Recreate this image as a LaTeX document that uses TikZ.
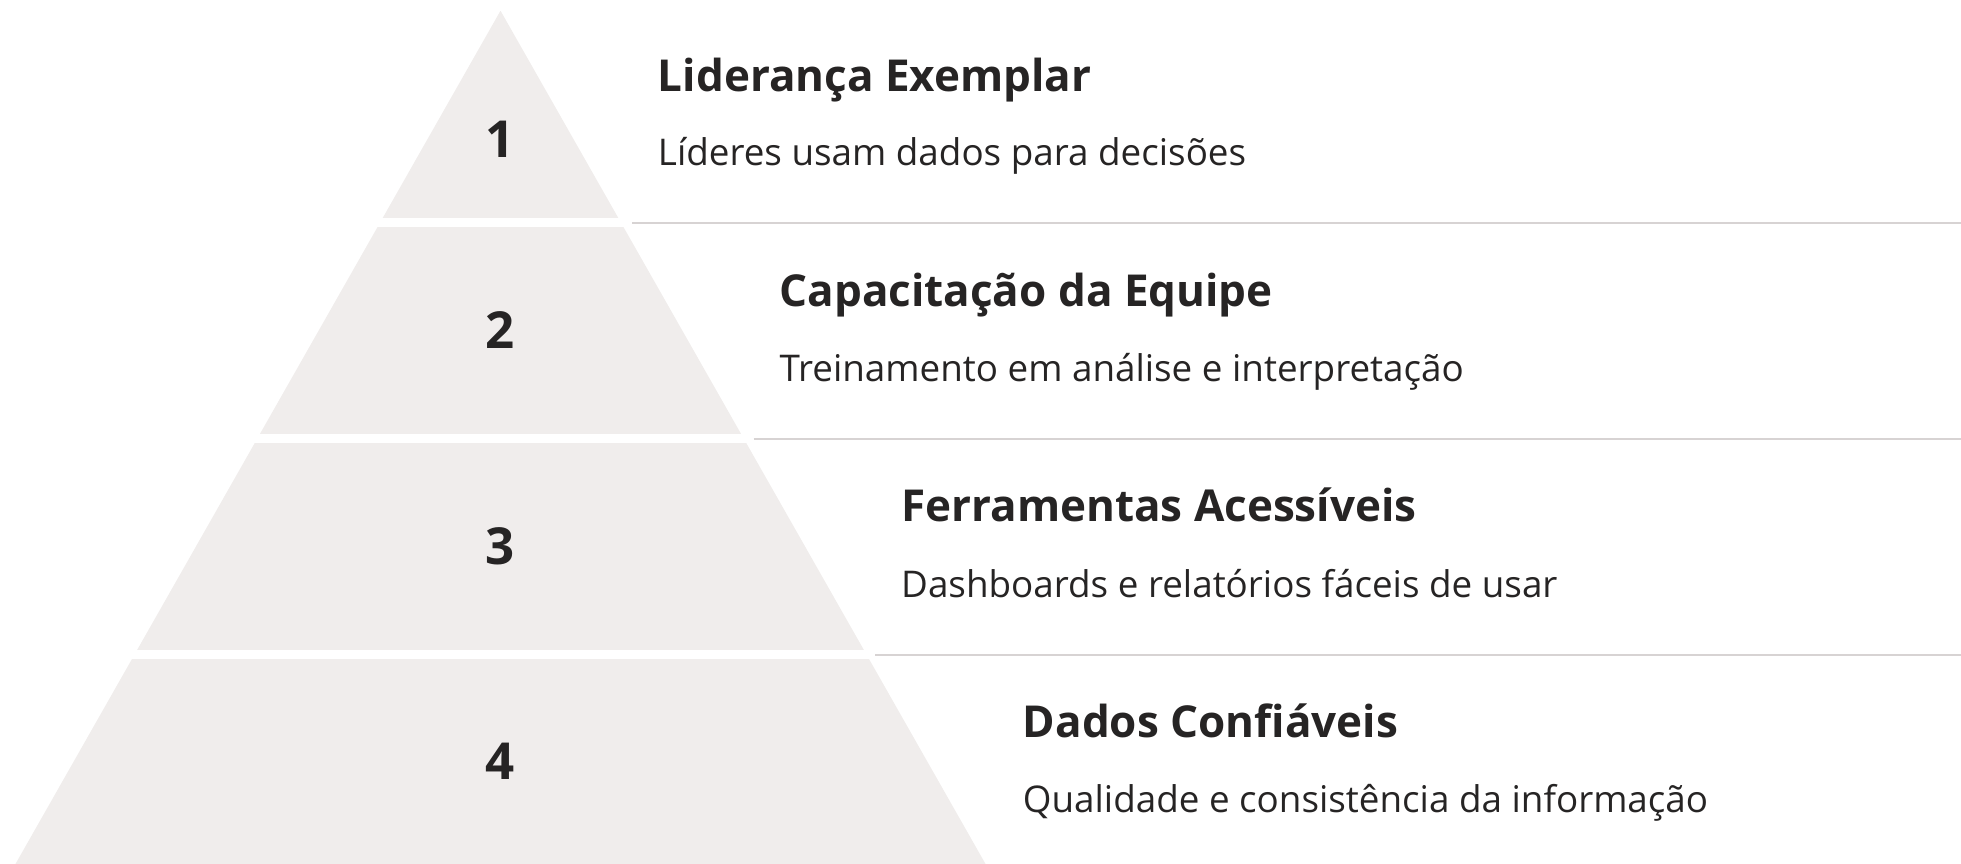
\documentclass[tikz,border=0pt]{standalone}
\usepackage{fontspec}
\setmainfont{Open Sans}
\definecolor{tierFill}{HTML}{F0EDEC}
\definecolor{inkDark}{HTML}{262424}
\definecolor{ruleGray}{HTML}{D7D3D3}

\begin{document}
\begin{tikzpicture}[x = 0.5pt, y = -0.5pt]
	\tikzstyle{tierStyle} = [fill = tierFill]
	\tikzstyle{numberStyle} = [text = inkDark, font = \fontsize{25.5}{30}\selectfont\bfseries, inner sep = 0pt]
	\tikzstyle{titleStyle} = [anchor = base west, text = inkDark, font = \fontsize{22}{26}\selectfont\bfseries, inner sep = 0pt]
	\tikzstyle{descStyle} = [anchor = base west, text = inkDark, font = \fontsize{18.4}{22}\selectfont, inner sep = 0pt]
	\tikzstyle{ruleStyle} = [draw = ruleGray, line width = 1pt]
	\clip (0, 0) rectangle (1961, 863);
	\begin{scope}
		\clip (500.5, 10.7) -- (986.7, 866) -- (14.3, 866) -- cycle;
		\foreach \k in {0, 1, 2, 3}
			\fill[tierStyle] (0, {10.7 + 216*\k}) rectangle (1961, {218.3 + 216*\k});
	\end{scope}
	\node[numberStyle] (n1) at (500, 139) {1};
	\node[numberStyle] (n2) at (500, 330.5) {2};
	\node[numberStyle] (n3) at (500, 546.5) {3};
	\node[numberStyle] (n4) at (500, 761) {4};
	\node[titleStyle] (t1) at (657.5, 91.7) {Liderança Exemplar};
	\node[descStyle] (d1) at (657.5, 165.7) {Líderes usam dados para decisões};
	\node[titleStyle] (t2) at (779.2, 306.8) {Capacitação da Equipe};
	\node[descStyle] (d2) at (779.2, 381.4) {Treinamento em análise e interpretação};
	\node[titleStyle] (t3) at (900.8, 521.9) {Ferramentas Acessíveis};
	\node[descStyle] (d3) at (900.8, 597.1) {Dashboards e relatórios fáceis de usar};
	\node[titleStyle] (t4) at (1022.5, 737) {Dados Confiáveis};
	\node[descStyle] (d4) at (1022.5, 812.8) {Qualidade e consistência da informação};
	\coordinate (r1a) at (632, 222.5);
	\coordinate (r1b) at (1961, 222.5);
	\coordinate (r2a) at (753.7, 438.5);
	\coordinate (r2b) at (1961, 438.5);
	\coordinate (r3a) at (875.3, 654.5);
	\coordinate (r3b) at (1961, 654.5);
	\draw[ruleStyle] (r1a) -- (r1b);
	\draw[ruleStyle] (r2a) -- (r2b);
	\draw[ruleStyle] (r3a) -- (r3b);
\end{tikzpicture}
\end{document}
